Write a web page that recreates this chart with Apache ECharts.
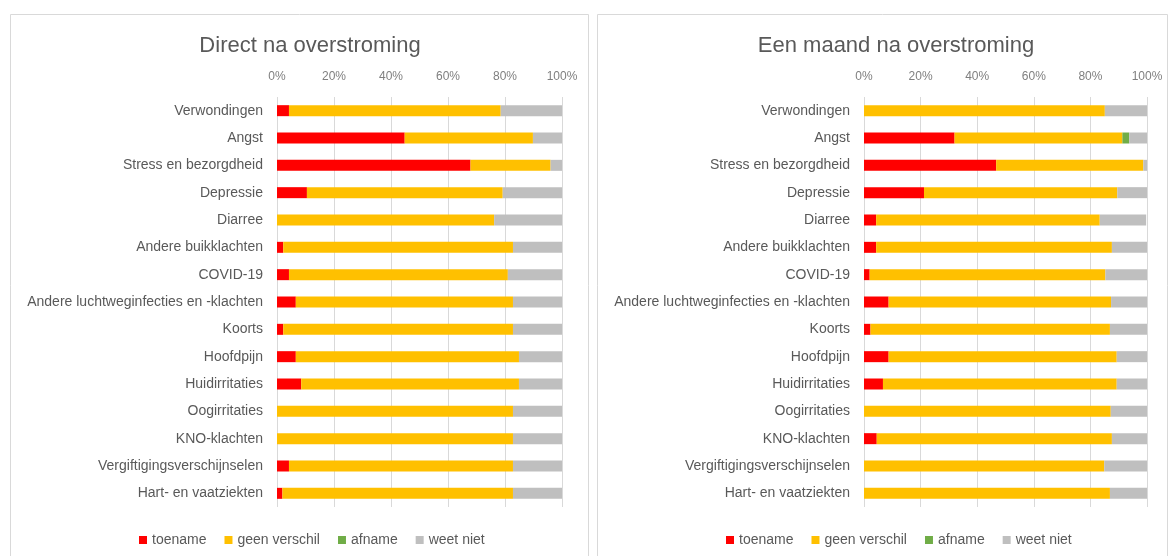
<!DOCTYPE html>
<html>
<head>
<meta charset="utf-8">
<script src="https://cdn.jsdelivr.net/npm/echarts@6/dist/echarts.min.js"></script>
<style>
  html, body { margin: 0; padding: 0; background: #fff; }
  #chart { width: 1172px; height: 556px; }
</style>
</head>
<body>
<div id="chart"></div>
<script>
// 类别
const categories = [
  'Verwondingen', 'Angst', 'Stress en bezorgdheid', 'Depressie', 'Diarree',
  'Andere buikklachten', 'COVID-19', 'Andere luchtweginfecties en -klachten',
  'Koorts', 'Hoofdpijn', 'Huidirritaties', 'Oogirritaties', 'KNO-klachten',
  'Vergiftigingsverschijnselen', 'Hart- en vaatziekten'
];
const seriesNames = ['toename', 'geen verschil', 'afname', 'weet niet'];
const tickLabels = ['0%', '20%', '40%', '60%', '80%', '100%'];

// Direct na overstroming (%)
const directToename = [4.2, 44.8, 67.9, 10.5, 0, 2.2, 4.2, 6.6, 2.2, 6.6, 8.5, 0, 0, 4.2, 1.9];
const directGeen    = [74.3, 45.0, 28.1, 68.7, 76.2, 80.6, 76.8, 76.2, 80.6, 78.3, 76.4, 82.8, 82.8, 78.6, 80.9];
const directAfname  = [0, 0, 0, 0, 0, 0, 0, 0, 0, 0, 0, 0, 0, 0, 0];
const directWeet    = [21.5, 10.2, 4.0, 20.8, 23.8, 17.2, 19.0, 17.2, 17.2, 15.1, 15.1, 17.2, 17.2, 17.2, 17.2];

// Een maand na overstroming (%)
const maandToename = [0, 32.0, 46.7, 21.2, 4.3, 4.3, 2.0, 8.7, 2.3, 8.7, 6.7, 0, 4.5, 0, 0];
const maandGeen    = [85.1, 59.3, 52.0, 68.3, 79.0, 83.3, 83.3, 78.6, 84.6, 80.6, 82.6, 87.2, 83.1, 84.9, 86.9];
const maandAfname  = [0, 2.4, 0, 0, 0, 0, 0, 0, 0, 0, 0, 0, 0, 0, 0];
const maandWeet    = [14.9, 6.3, 1.3, 10.5, 16.4, 12.4, 14.7, 12.7, 13.1, 10.7, 10.7, 12.8, 12.4, 15.1, 13.1];

const colors = ['#FF0000', '#FFC000', '#70AD47', '#BFBFBF'];
const textColor = '#595959';
const fontFam = 'Liberation Sans, Arial, sans-serif';

const chart = echarts.init(document.getElementById('chart'));

// 生成坐标轴
function makeXAxis(idx) {
  return {
    type: 'value', gridIndex: idx, position: 'top',
    min: 0, max: 100, interval: 20,
    axisLine: { show: false }, axisTick: { show: false },
    axisLabel: {
      color: '#7F7F7F', fontSize: 12, fontFamily: fontFam, margin: 14,
      formatter: (v) => tickLabels[v / 20]
    },
    splitLine: { lineStyle: { color: '#D9D9D9', width: 1 } }
  };
}
function makeYAxis(idx) {
  return {
    type: 'category', gridIndex: idx, inverse: true, data: categories,
    axisLine: { show: false }, axisTick: { show: false },
    axisLabel: { color: textColor, fontSize: 14, fontFamily: fontFam, margin: 14 }
  };
}
// 生成堆叠柱
function makeSeries(idx, lists) {
  return lists.map((d, i) => ({
    name: seriesNames[i], type: 'bar', stack: 'p' + idx,
    xAxisIndex: idx, yAxisIndex: idx,
    barWidth: 11, data: d,
    itemStyle: { color: colors[i] },
    emphasis: { disabled: true }
  }));
}
function makeLegend(center) {
  return {
    data: seriesNames, bottom: 4, left: center, width: 400,
    icon: 'rect', itemWidth: 8, itemHeight: 8, itemGap: 18,
    textStyle: { color: textColor, fontSize: 14, fontFamily: fontFam },
    selectedMode: false
  };
}

const option = {
  animation: false,
  color: colors,
  title: [
    { text: 'Direct na overstroming', left: 305, top: 30, textAlign: 'center',
      textStyle: { color: textColor, fontSize: 22, fontWeight: 'normal', fontFamily: fontFam } },
    { text: 'Een maand na overstroming', left: 891, top: 30, textAlign: 'center',
      textStyle: { color: textColor, fontSize: 22, fontWeight: 'normal', fontFamily: fontFam } }
  ],
  grid: [
    { left: 277, width: 285, top: 97, height: 410 },
    { left: 864, width: 283, top: 97, height: 410 }
  ],
  xAxis: [makeXAxis(0), makeXAxis(1)],
  yAxis: [makeYAxis(0), makeYAxis(1)],
  legend: [makeLegend(134), makeLegend(721)],
  graphic: [
    { type: 'rect', shape: { x: 10.5, y: 14.5, width: 578, height: 560 },
      style: { fill: 'none', stroke: '#D9D9D9', lineWidth: 1 }, silent: true },
    { type: 'rect', shape: { x: 597.5, y: 14.5, width: 570, height: 560 },
      style: { fill: 'none', stroke: '#D9D9D9', lineWidth: 1 }, silent: true }
  ],
  series: [
    ...makeSeries(0, [directToename, directGeen, directAfname, directWeet]),
    ...makeSeries(1, [maandToename, maandGeen, maandAfname, maandWeet])
  ]
};

chart.setOption(option);
</script>
</body>
</html>
